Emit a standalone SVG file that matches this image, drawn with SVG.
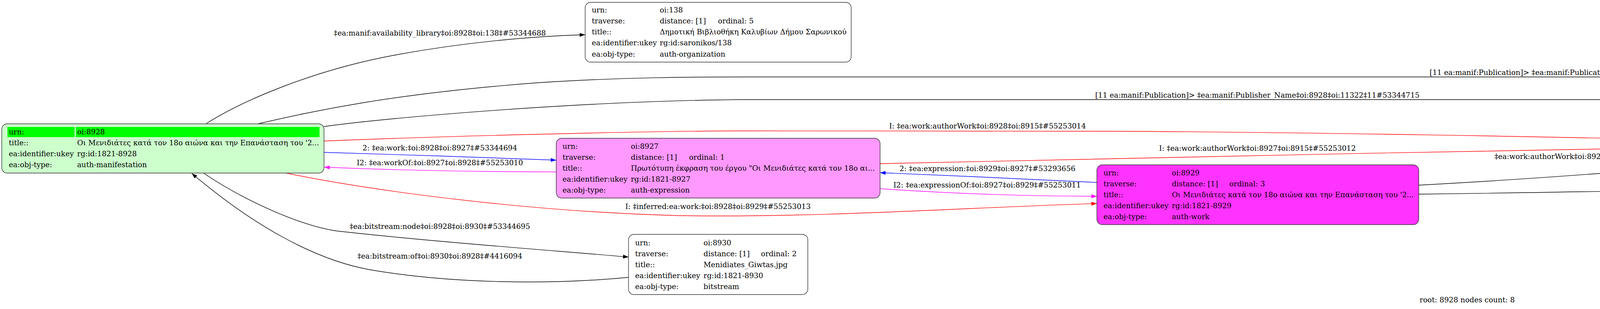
<svg xmlns="http://www.w3.org/2000/svg" width="7513" height="791" viewBox="0 0 7513 791">
<style>
text{font-family:"DejaVu Serif","Liberation Serif",serif;font-size:18.67px;fill:#000}
.lbl{text-anchor:middle}
.node{stroke:#333;stroke-width:1.4}
.e{fill:none;stroke-width:1.4}
.k{stroke:#000}.r{stroke:#f00}.b{stroke:#00f}.m{stroke:#f0f}
</style>
<defs>
<marker id="ak" markerUnits="userSpaceOnUse" markerWidth="15" markerHeight="11" refX="14" refY="5" orient="auto" viewBox="0 0 15 11"><path d="M0,0 L14,5 L0,10 z" fill="#000"/></marker>
<marker id="ar" markerUnits="userSpaceOnUse" markerWidth="15" markerHeight="11" refX="14" refY="5" orient="auto" viewBox="0 0 15 11"><path d="M0,0 L14,5 L0,10 z" fill="#f00"/></marker>
<marker id="ab" markerUnits="userSpaceOnUse" markerWidth="15" markerHeight="11" refX="14" refY="5" orient="auto" viewBox="0 0 15 11"><path d="M0,0 L14,5 L0,10 z" fill="#00f"/></marker>
<marker id="am" markerUnits="userSpaceOnUse" markerWidth="15" markerHeight="11" refX="14" refY="5" orient="auto" viewBox="0 0 15 11"><path d="M0,0 L14,5 L0,10 z" fill="#f0f"/></marker>
</defs>
<rect width="7513" height="791" fill="#fff"/>

<g id="connectors">
<path class="e k" d="M527,317 C620,258 800,180 1011,141 C1200,106 1380,92 1498,89" marker-end="url(#ak)"/>
<text class="lbl" x="1126" y="91">‡ea:manif:availability_library‡oi:8928‡oi:138‡#53344688</text>

<path class="e k" d="M660,317 C800,285 1000,240 1374,212 C1600,197 1800,197 1900,197 L6124,197 C6400,200 6700,238 7050,283" marker-end="url(#ak)"/>
<text class="lbl" x="4069" y="192">[11 ea:manif:Publication]&gt; ‡ea:manif:Publication_Place‡oi:8928‡oi:813‡11#53344709</text>

<path class="e k" d="M829,324 C1000,300 1500,258 1900,255 L4750,255 C5100,257 5450,280 5732,295" marker-end="url(#ak)"/>
<text class="lbl" x="3219" y="250">[11 ea:manif:Publication]&gt; ‡ea:manif:Publisher_Name‡oi:8928‡oi:11322‡11#53344715</text>

<path class="e r" d="M829,361 C1100,350 1600,336 1900,335 L2850,336 C3300,338 4000,350 4503,363" marker-end="url(#ar)"/>
<text class="lbl" x="2528" y="329">I: ‡ea:work:authorWork‡oi:8928‡oi:8915‡#55253014</text>

<path class="e b" d="M829,390 C1000,395 1250,403 1424,410" marker-end="url(#ab)"/>
<text class="lbl" x="1126" y="385">2: ‡ea:work:‡oi:8928‡oi:8927‡#53344694</text>

<path class="e m" d="M1424,440 C1250,440 1050,437 830,428" marker-end="url(#am)"/>
<text class="lbl" x="1126" y="423">I2: ‡ea:workOf:‡oi:8927‡oi:8928‡#55253010</text>

<path class="e r" d="M732,443 C900,478 1300,540 1738,552 C2100,558 2500,530 2808,521" marker-end="url(#ar)"/>
<text class="lbl" x="1838" y="535">I: ‡inferred:ea:work:‡oi:8928‡oi:8929‡#55253013</text>

<path class="e k" d="M521,443 C620,510 760,575 860,591 C1100,618 1400,640 1609,658" marker-end="url(#ak)"/>
<text class="lbl" x="1126" y="586">‡ea:bitstream:node‡oi:8928‡oi:8930‡#53344695</text>

<path class="e k" d="M1609,710 C1400,730 1150,725 950,691 C800,665 640,570 491,444" marker-end="url(#ak)"/>
<text class="lbl" x="1126" y="662">‡ea:bitstream:of‡oi:8930‡oi:8928‡#4416094</text>

<path class="e b" d="M2808,467 C2600,457 2450,450 2253,442" marker-end="url(#ab)"/>
<text class="lbl" x="2528" y="438">2: ‡ea:expression:‡oi:8929‡oi:8927‡#53293656</text>

<path class="e m" d="M2253,483 C2400,493 2600,502 2808,502.5" marker-end="url(#am)"/>
<text class="lbl" x="2527" y="480">I2: ‡ea:expressionOf:‡oi:8927‡oi:8929‡#55253011</text>

<path class="e r" d="M2253,419 C2900,405 3800,385 4503,374" marker-end="url(#ar)"/>
<text class="lbl" x="3219" y="386">I: ‡ea:work:authorWork‡oi:8927‡oi:8915‡#55253012</text>

<path class="e k" d="M3632,474 C3900,460 4300,430 4503,410" marker-end="url(#ak)"/>
<text class="lbl" x="4068" y="407">‡ea:work:authorWork‡oi:8929‡oi:8915‡#53293642</text>

<path class="e k" d="M3632,497 C4200,490 5200,470 5700,446 C6100,425 6700,375 7050,346" marker-end="url(#ak)"/>
<text class="lbl" x="5346" y="441">‡ea:work:geographical‡oi:8929‡oi:813‡#53293652</text>

<path class="e m" d="M4963,351 C5300,338 5600,326 5732,324" marker-end="url(#am)"/>
<text class="lbl" x="5347" y="320">I2: ‡ea:relation:PersonOrganizationPresident‡oi:8915‡oi:11322‡#55260450</text>

<path class="e m" d="M5732,372 C5500,388 5200,392 4963,382" marker-end="url(#am)"/>
<text class="lbl" x="5347" y="369">I2: ‡ea:relation:OrganizationPersonPresident‡oi:11322‡oi:8915‡#55260455</text>

<path class="e k" d="M6362,319 L7050,319" marker-end="url(#ak)"/>
<text class="lbl" x="6705" y="314">‡ea:auth:ResidencePlaceOrganization‡oi:11322‡oi:813‡#53345078</text>
</g>

<g id="ul8928">
<rect class="node" x="4.5" y="317" width="825" height="126" rx="14" fill="#ccffcc"/>
<rect x="19" y="325" width="172" height="26" fill="#00ff00"/>
<rect x="194" y="325" width="624" height="26" fill="#00ff00"/>
<text x="22.5" y="343.5">urn:</text><text x="197.5" y="343.5">oi:8928</text>
<text x="22.5" y="371.5">title::</text><text x="197.5" y="371.5">Οι Μενιδιάτες κατά τον 18ο αιώνα και την Επανάσταση του '2...</text>
<text x="22.5" y="399.5">ea:identifier:ukey</text><text x="197.5" y="399.5">rg:id:1821-8928</text>
<text x="22.5" y="427.5">ea:obj-type:</text><text x="197.5" y="427.5">auth-manifestation</text>
</g>

<g id="ul138">
<rect class="node" x="1498" y="6" width="681" height="153" rx="14" fill="#fff"/>
<text x="1515" y="31.5">urn:</text><text x="1689" y="31.5">oi:138</text>
<text x="1515" y="59.5">traverse:</text><text x="1689" y="59.5">distance: [1]</text><text x="1838" y="59.5">ordinal: 5</text>
<text x="1515" y="88">title::</text><text x="1689" y="88">Δημοτική Βιβλιοθήκη Καλυβίων Δήμου Σαρωνικού</text>
<text x="1515" y="116">ea:identifier:ukey</text><text x="1689" y="116">rg:id:saronikos/138</text>
<text x="1515" y="144.5">ea:obj-type:</text><text x="1689" y="144.5">auth-organization</text>
</g>

<g id="ul8927">
<rect class="node" x="1424" y="354" width="829" height="153" rx="14" fill="#ff99ff"/>
<text x="1440" y="380.5">urn:</text><text x="1615" y="380.5">oi:8927</text>
<text x="1440" y="408.5">traverse:</text><text x="1615" y="408.5">distance: [1]</text><text x="1764" y="408.5">ordinal: 1</text>
<text x="1440" y="436.5">title::</text><text x="1615" y="436.5">Πρωτότυπη έκφραση του έργου "Οι Μενιδιάτες κατά τον 18ο αι...</text>
<text x="1440" y="464.5">ea:identifier:ukey</text><text x="1615" y="464.5">rg:id:1821-8927</text>
<text x="1440" y="492.5">ea:obj-type:</text><text x="1615" y="492.5">auth-expression</text>
</g>

<g id="ul8930">
<rect class="node" x="1609" y="600" width="459" height="154" rx="14" fill="#fff"/>
<text x="1626" y="627.5">urn:</text><text x="1801" y="627.5">oi:8930</text>
<text x="1626" y="655.5">traverse:</text><text x="1801" y="655.5">distance: [1]</text><text x="1948" y="655.5">ordinal: 2</text>
<text x="1626" y="683.5">title::</text><text x="1801" y="683.5">Menidiates_Giwtas.jpg</text>
<text x="1626" y="711.5">ea:identifier:ukey</text><text x="1801" y="711.5">rg:id:1821-8930</text>
<text x="1626" y="739.5">ea:obj-type:</text><text x="1801" y="739.5">bitstream</text>
</g>

<g id="ul8929">
<rect class="node" x="2808" y="422" width="824" height="153" rx="14" fill="#ff33ff"/>
<text x="2825" y="448.5">urn:</text><text x="3000" y="448.5">oi:8929</text>
<text x="2825" y="476.5">traverse:</text><text x="3000" y="476.5">distance: [1]</text><text x="3147" y="476.5">ordinal: 3</text>
<text x="2825" y="504.5">title::</text><text x="3000" y="504.5">Οι Μενιδιάτες κατά τον 18ο αιώνα και την Επανάσταση του '2...</text>
<text x="2825" y="532.5">ea:identifier:ukey</text><text x="3000" y="532.5">rg:id:1821-8929</text>
<text x="2825" y="560.5">ea:obj-type:</text><text x="3000" y="560.5">auth-work</text>
</g>

<g id="ul8915">
<rect class="node" x="4503" y="294" width="460" height="153" rx="14" fill="#ffcc99"/>
<text x="4519" y="320.5">urn:</text><text x="4694" y="320.5">oi:8915</text>
<text x="4519" y="348.5">traverse:</text><text x="4694" y="348.5">distance: [1]</text><text x="4842" y="348.5">ordinal: 4</text>
<text x="4519" y="376.5">title::</text><text x="4694" y="376.5">Γιώτας, Δημήτρης Γιώργος</text>
<text x="4519" y="404.5">ea:identifier:ukey</text><text x="4694" y="404.5">rg:id:1821-8915</text>
<text x="4519" y="432.5">ea:obj-type:</text><text x="4694" y="432.5">auth-person</text>
</g>

<g id="ul11322">
<rect class="node" x="5732" y="243" width="630" height="154" rx="14" fill="#fff"/>
<text x="5749" y="269.5">urn:</text><text x="5924" y="269.5">oi:11322</text>
<text x="5749" y="297.5">traverse:</text><text x="5924" y="297.5">distance: [1]</text><text x="6071" y="297.5">ordinal: 7</text>
<text x="5749" y="325.5">title::</text><text x="5924" y="325.5">Ιστορική και Λαογραφική Εταιρεία Αχαρνών</text>
<text x="5749" y="353.5">ea:identifier:ukey</text><text x="5924" y="353.5">rg-kalivia_1821-11322</text>
<text x="5749" y="381.5">ea:obj-type:</text><text x="5924" y="381.5">auth-organization</text>
</g>

<g id="ul813">
<rect class="node" x="7050" y="243" width="457" height="154" rx="14" fill="#fff"/>
<text x="7065" y="269.5">urn:</text><text x="7240" y="269.5">oi:813</text>
<text x="7065" y="297.5">traverse:</text><text x="7240" y="297.5">distance: [1]</text><text x="7388" y="297.5">ordinal: 6</text>
<text x="7065" y="325.5">title::</text><text x="7240" y="325.5">Αχαρνές</text>
<text x="7065" y="353.5">ea:identifier:ukey</text><text x="7240" y="353.5">rg:id:saronikos/813</text>
<text x="7065" y="381.5">ea:obj-type:</text><text x="7240" y="381.5">auth-place</text>
</g>

<text class="lbl" x="3756" y="774">root: 8928 nodes count: 8</text>
</svg>
